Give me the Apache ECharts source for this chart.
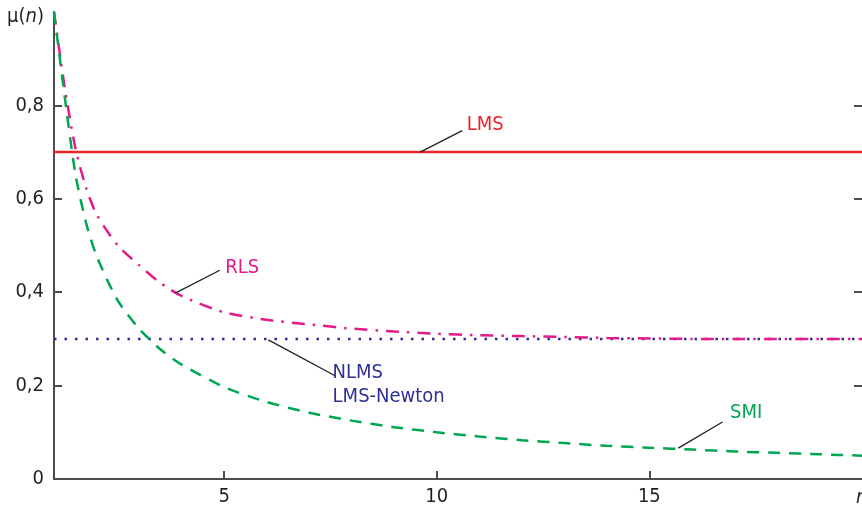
<!DOCTYPE html>
<html>
<head>
<meta charset="utf-8">
<script src="https://cdn.jsdelivr.net/npm/echarts@6/dist/echarts.min.js"></script>
<style>
	html, body { margin: 0; padding: 0; background: #fff; }
	#chart { width: 862px; height: 506px; }
</style>
</head>
<body>
<div id="chart"></div>
<script>
// n-Werte (Abtastpunkte der Kurven)
const nValues = [1, 1.25, 1.5, 1.75, 2, 2.5, 3, 3.5, 4, 5, 6, 7, 8, 9, 10, 11, 12, 13, 14, 15, 16, 17, 18, 19, 20];
// RLS, strich-punkt
const rlsValues = [1.0, 0.84, 0.71, 0.625, 0.567, 0.5, 0.458, 0.42, 0.392, 0.357, 0.341, 0.331, 0.322, 0.316, 0.311, 0.308, 0.306, 0.304, 0.302, 0.301, 0.3, 0.3, 0.3, 0.3, 0.3];
// SMI, gestrichelt
const smiValues = [1.0, 0.82, 0.655, 0.55, 0.478, 0.382, 0.322, 0.278, 0.245, 0.197, 0.165, 0.142, 0.125, 0.111, 0.1, 0.091, 0.083, 0.077, 0.071, 0.067, 0.063, 0.059, 0.056, 0.053, 0.05];
// LMS und NLMS / LMS-Newton: konstant
const nEnds = [1, 20];
const lmsValues = [0.7, 0.7];
const nlmsValues = [0.3, 0.3];
const xTicks = [5, 10, 15];
const yTicks = [0, 0.2, 0.4, 0.6, 0.8];

const font = "'DejaVu Sans Condensed', 'Liberation Sans Narrow', sans-serif";
const fontSize = 20;
const axisColor = '#4d4d4d';
const textColor = '#231f20';

const pairs = (xs, ys) => xs.map((x, i) => [x, ys[i]]);

// Hinweislinie + Beschriftung
function leader(from, to, text, color, labelOpt) {
	return {
		markLine: {
			silent: true,
			symbol: 'none',
			animation: false,
			lineStyle: { color: textColor, width: 1.3, type: 'solid' },
			label: { show: false },
			data: [[{ coord: from }, { coord: to }]],
		},
		markPoint: {
			silent: true,
			symbol: 'circle',
			symbolSize: 1,
			itemStyle: { color: 'rgba(0,0,0,0)' },
			label: Object.assign({
				show: true,
				formatter: text,
				color: color,
				fontFamily: font,
				fontSize: fontSize,
				position: 'right',
				align: 'left',
			}, labelOpt),
			data: [{ coord: to }],
		},
	};
}

const chart = echarts.init(document.getElementById('chart'));
const option = {
	animation: false,
	grid: { left: 54, right: 0, top: 12, bottom: 27, outerBoundsMode: 'none', containLabel: false },
	xAxis: [
		{
			type: 'value',
			min: 1,
			max: 20,
			name: 'n',
			nameLocation: 'end',
			nameGap: -6,
			nameTextStyle: {
				fontFamily: font, fontSize: fontSize, fontStyle: 'italic', color: textColor,
				align: 'left', verticalAlign: 'top', padding: [9, 0, 0, 0],
			},
			axisLine: { show: true, lineStyle: { color: axisColor, width: 2 } },
			axisTick: { show: true, inside: true, length: 8, customValues: xTicks, lineStyle: { color: axisColor, width: 2 } },
			axisLabel: { customValues: xTicks, fontFamily: font, fontSize: fontSize, color: textColor, margin: 8 },
			splitLine: { show: false },
		},
		{
			type: 'value',
			position: 'top',
			min: 1,
			max: 20,
			axisLine: { show: true, lineStyle: { color: axisColor, width: 2 } },
			axisTick: { show: false },
			axisLabel: { show: false },
			splitLine: { show: false },
		},
	],
	yAxis: [
		{
			type: 'value',
			min: 0,
			max: 1,
			interval: 0.2,
			name: '{m|μ(}{n|n}{m|)}',
			nameLocation: 'end',
			nameGap: -5,
			nameTextStyle: {
				align: 'right', verticalAlign: 'middle', padding: [0, 10, 0, 0],
				rich: {
					m: { fontFamily: font, fontSize: fontSize, color: textColor },
					n: { fontFamily: font, fontSize: fontSize, color: textColor, fontStyle: 'italic' },
				},
			},
			axisLine: { show: true, lineStyle: { color: axisColor, width: 2 } },
			axisTick: { show: true, inside: true, length: 8, customValues: yTicks, lineStyle: { color: axisColor, width: 2 } },
			axisLabel: {
				customValues: yTicks,
				fontFamily: font, fontSize: fontSize, color: textColor, margin: 10,
				formatter: v => (v === 0 ? '0' : v.toFixed(1).replace('.', ',')),
			},
			splitLine: { show: false },
		},
		{
			type: 'value',
			position: 'right',
			min: 0,
			max: 1,
			interval: 0.2,
			axisLine: { show: false },
			axisTick: { show: true, inside: true, length: 8, customValues: [0.2, 0.4, 0.6, 0.8], lineStyle: { color: axisColor, width: 2 } },
			axisLabel: { show: false },
			splitLine: { show: false },
		},
	],
	series: [
		Object.assign({
			name: 'LMS',
			type: 'line',
			data: pairs(nEnds, lmsValues),
			symbol: 'none',
			lineStyle: { color: '#e8242b', width: 2.5 },
			z: 3,
		}, leader([9.61, 0.7], [10.6, 0.746], 'LMS', '#e8242b', { distance: 4, offset: [0, -6] })),
		Object.assign({
			name: 'NLMS',
			type: 'line',
			data: pairs(nEnds, nlmsValues),
			symbol: 'none',
			lineStyle: { color: '#2e3192', width: 2.5, type: [2.5, 8], cap: 'butt' },
			z: 2,
		}, leader([6.04, 0.298], [7.61, 0.221], 'NLMS\nLMS-Newton', '#2e3192', { distance: 0, offset: [-3, 9], lineHeight: 24 })),
		Object.assign({
			name: 'RLS',
			type: 'line',
			data: pairs(nValues, rlsValues),
			smooth: 0.25,
			symbol: 'none',
			lineStyle: { color: '#e6198a', width: 2.5, type: [13, 8, 2.5, 8] },
			z: 4,
		}, leader([3.85, 0.398], [4.9, 0.447], 'RLS', '#e6198a', { distance: 5, offset: [0, -2] })),
		Object.assign({
			name: 'SMI',
			type: 'line',
			data: pairs(nValues, smiValues),
			smooth: 0.25,
			symbol: 'none',
			lineStyle: { color: '#00a651', width: 2.5, type: [12, 9] },
			z: 4,
		}, leader([15.68, 0.066], [16.72, 0.122], 'SMI', '#00a651', { distance: 7, offset: [0, -9] })),
	],
};
chart.setOption(option);
</script>
</body>
</html>
